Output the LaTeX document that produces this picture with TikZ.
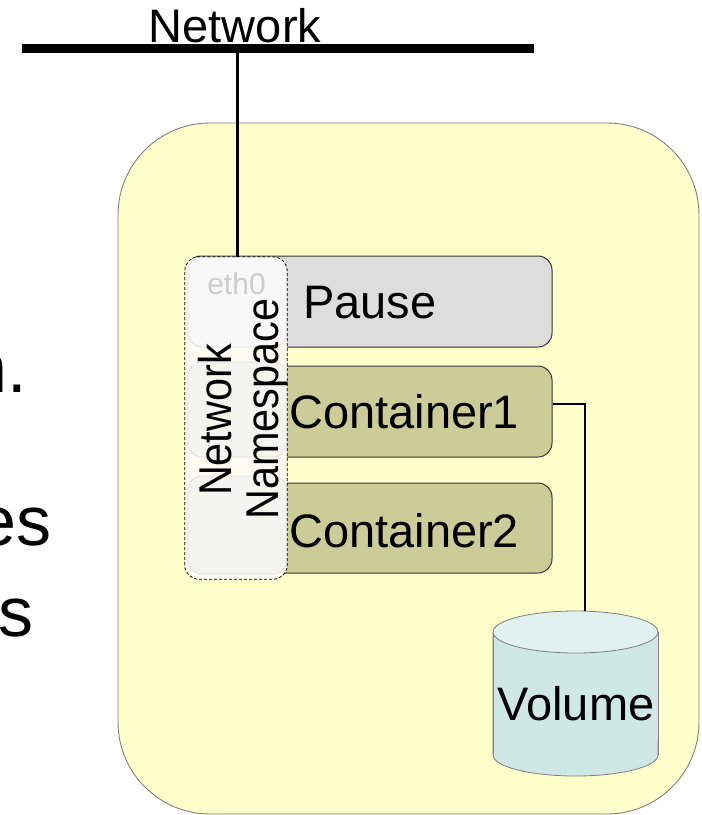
\documentclass[tikz,border=0pt]{standalone}
\usepackage{fontspec}
\setmainfont{Liberation Sans}
\definecolor{podyellow}{HTML}{FFFFCC}
\definecolor{pausegray}{HTML}{DDDDDD}
\definecolor{olive}{HTML}{CCCC99}
\definecolor{nsfill}{HTML}{FCFCF2}
\definecolor{subfill}{HTML}{F5F5EF}
\definecolor{ethfill}{HTML}{F8F8F8}
\definecolor{cylbody}{HTML}{CFE7E5}
\definecolor{cyltop}{HTML}{E1F1F0}
\begin{document}
\begin{tikzpicture}[x=1pt,y=-1pt,
  big/.style={inner sep=0pt, font=\fontsize{47}{50}\selectfont},
  side/.style={inner sep=0pt, font=\fontsize{70}{74}\selectfont},
  vert/.style={inner sep=0pt, rotate=90, anchor=base, font=\fontsize{46}{50}\selectfont},
  podbox/.style={draw=black!50, fill=podyellow, line width=0.9pt, rounded corners=92pt},
  ctrbox/.style={draw=black!80, line width=1pt, rounded corners=14pt, inner sep=0pt,
                 minimum width=365pt},
  subbox/.style={draw=black!13, fill=subfill, line width=0.8pt, rounded corners=14pt,
                 inner sep=0pt, minimum width=99pt},
  conn/.style={draw=black, line width=1.3pt}
]
\useasboundingbox (0,0) rectangle (702,815);

% slide text running in from the left
\node[side, anchor=base east] (frag1) at (27,392) {n.};
\node[side, anchor=base east] (frag2) at (52,545) {es};
\node[side, anchor=base east] (frag3) at (34,636) {s};

% pod
\draw[podbox] (118,123) rectangle (699,814);

% network bus
\coordinate (netL) at (22,48);
\coordinate (netR) at (534,48);
\coordinate (tap) at (237.5,48);
\draw[line width=9pt] (netL) -- (netR);
\node[big, anchor=base] (netlabel) at (235,42) {Network};

% containers
\node[ctrbox, fill=pausegray, minimum height=91pt] (pause) at (369.5,301.5) {};
\node[ctrbox, fill=olive, minimum height=91pt] (c1) at (369.5,411.5) {};
\node[ctrbox, fill=olive, minimum height=90pt] (c2) at (369.5,528) {};
\node[big, anchor=base west] (pauselbl) at (303,318) {Pause};
\node[big, anchor=base west] (c1lbl) at (289,428) {Container1};
\node[big, anchor=base west] (c2lbl) at (289,547) {Container2};

% network namespace
\node[inner sep=0pt, minimum width=102pt, minimum height=322pt, fill=nsfill,
      rounded corners=14pt] (ns) at (236,418) {};
\node[subbox, fill=ethfill, minimum height=90pt] (eth) at (237.5,302) {};
\node[subbox, minimum height=95pt] (sub2) at (237.5,409.5) {};
\node[subbox, minimum height=98pt] (sub3) at (237.5,525) {};
\draw[dash pattern=on 3pt off 2pt, line width=0.8pt, rounded corners=14pt]
  (ns.south west) rectangle (ns.north east);
\node[inner sep=0pt, anchor=base, text=black!20, font=\fontsize{30}{32}\selectfont]
  (ethlbl) at (236.5,294) {eth0};
\node[vert] (nsword1) at (231,420) {\scalebox{0.9}[1]{Network}};
\node[vert] (nsword2) at (278,409) {\scalebox{0.9}[1]{Namespace}};

% uplink from the bus
\draw[line width=3.5pt] (tap) -- (eth.north);

% volume
\node[inner sep=0pt, minimum width=165pt, minimum height=165pt] (vol) at (575.5,693.5) {};
\filldraw[fill=cylbody, draw=black!50, line width=0.8pt]
  (493,632) -- (493,755) arc[start angle=180, end angle=360, x radius=82.5pt, y radius=21pt]
  -- (658,632);
\fill[cylbody] (493,632) rectangle (658,740);
\draw[black!50, line width=0.8pt] (493,632) -- (493,755);
\draw[black!50, line width=0.8pt] (658,632) -- (658,755);
\filldraw[fill=cyltop, draw=black!50, line width=0.8pt] (575.5,632) ellipse[x radius=82.5pt, y radius=21pt];
\node[big, anchor=base] (vollbl) at (576,720) {Volume};

% mount link
\draw[conn] ([yshift=7.5pt]c1.east) -| ([xshift=9.5pt]vol.north);
\end{tikzpicture}
\end{document}
